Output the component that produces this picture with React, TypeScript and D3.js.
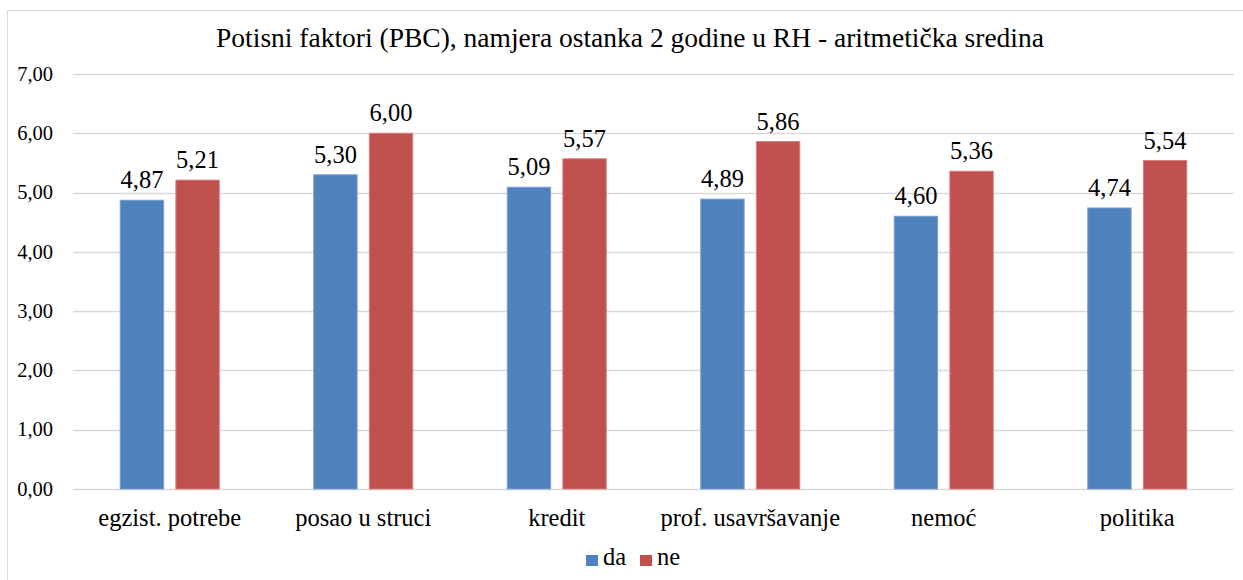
import { useEffect, useRef } from "react";
import * as d3 from "d3";

const title = "Potisni faktori (PBC), namjera ostanka 2 godine u RH - aritmetička sredina";
const categories = [
  "egzist. potrebe",
  "posao u struci",
  "kredit",
  "prof. usavršavanje",
  "nemoć",
  "politika",
];
const seriesNames = ["da", "ne"];
const daValues = [4.87, 5.3, 5.09, 4.89, 4.6, 4.74];
const neValues = [5.21, 6.0, 5.57, 5.86, 5.36, 5.54];
const yTicks = [0, 1, 2, 3, 4, 5, 6, 7];
const colors = ["#4F81BD", "#C0504D"];
const strokes = ["#7A9FD0", "#D77F7C"];

const fmt = (v: number) => v.toFixed(2).replace(".", ",");

export default function App() {
  const ref = useRef<SVGSVGElement>(null);

  useEffect(() => {
    if (!ref.current) return;
    const W = 1243;
    const H = 580;
    const svg = d3.select(ref.current);
    svg.selectAll("*").remove();
    svg.style("font-family", "Liberation Serif, DejaVu Serif, serif");

    svg.append("rect").attr("width", W).attr("height", H).attr("fill", "#fff");
    svg.append("rect")
      .attr("x", 7.5).attr("y", 10.5)
      .attr("width", W).attr("height", H)
      .attr("fill", "none").attr("stroke", "#D9D9D9");

    const left = 73, right = 1234, top = 74, bottom = 489;

    const x = d3.scaleBand().domain(categories).range([left, right]).paddingInner(0).paddingOuter(0);
    const inner = d3.scaleBand().domain(seriesNames).range([0, 99]).paddingInner(0.22);
    const y = d3.scaleLinear().domain([0, 7]).range([bottom, top]);

    svg.append("text")
      .attr("x", 630).attr("y", 47)
      .attr("text-anchor", "middle")
      .style("font-size", "27.5px")
      .text(title);

    const gy = svg.append("g");
    gy.selectAll("line").data(yTicks).enter().append("line")
      .attr("x1", left).attr("x2", right)
      .attr("y1", (d) => Math.round(y(d)) + 0.5).attr("y2", (d) => Math.round(y(d)) + 0.5)
      .attr("stroke", "#D9D9D9").attr("stroke-width", 1.5);
    gy.selectAll("text").data(yTicks).enter().append("text")
      .attr("x", 53).attr("y", (d) => y(d))
      .attr("dy", "0.33em")
      .attr("text-anchor", "end")
      .style("font-size", "20.5px")
      .text((d) => fmt(d));

    const series = [daValues, neValues];
    series.forEach((vals, si) => {
      const g = svg.append("g");
      g.selectAll("rect").data(vals).enter().append("rect")
        .attr("x", (_, i) => x(categories[i])! + (x.bandwidth() - 99) / 2 + inner(seriesNames[si])!)
        .attr("y", (d) => y(d))
        .attr("width", inner.bandwidth())
        .attr("height", (d) => bottom - y(d))
        .attr("fill", colors[si])
        .attr("stroke", strokes[si]).attr("stroke-width", 1);
      g.selectAll("text").data(vals).enter().append("text")
        .attr("x", (_, i) => x(categories[i])! + (x.bandwidth() - 99) / 2 + inner(seriesNames[si])! + inner.bandwidth() / 2)
        .attr("y", (d) => y(d) - 12)
        .attr("text-anchor", "middle")
        .style("font-size", "24.5px")
        .text((d) => fmt(d));
    });

    svg.append("g").selectAll("text").data(categories).enter().append("text")
      .attr("x", (d) => x(d)! + x.bandwidth() / 2)
      .attr("y", 526)
      .attr("text-anchor", "middle")
      .style("font-size", "24.5px")
      .text((d) => d);

    const legend = svg.append("g");
    const lx = [586, 640];
    seriesNames.forEach((name, i) => {
      legend.append("rect")
        .attr("x", lx[i]).attr("y", 555)
        .attr("width", 12).attr("height", 11)
        .attr("fill", colors[i]);
      legend.append("text")
        .attr("x", lx[i] + 17).attr("y", 565)
        .style("font-size", "24.5px")
        .text(name);
    });
  }, []);

  return (
    <svg
      ref={ref}
      width={1243}
      height={580}
      style={{ position: "absolute", left: 0, top: 0, display: "block" }}
    />
  );
}
